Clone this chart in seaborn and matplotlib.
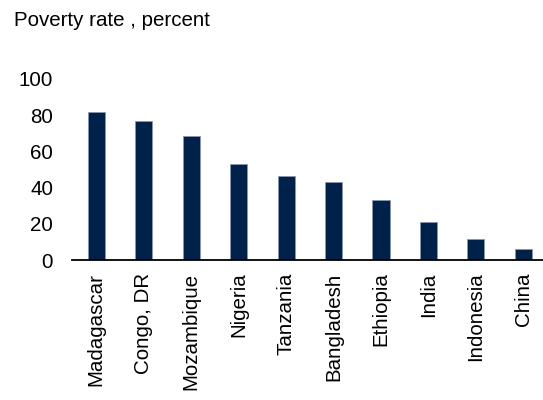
import matplotlib
matplotlib.use("Agg")
import matplotlib.pyplot as plt
import seaborn as sns
import pandas as pd

# data
countries = ["Madagascar", "Congo, DR", "Mozambique", "Nigeria", "Tanzania",
             "Bangladesh", "Ethiopia", "India", "Indonesia", "China"]
poverty_rate = [81.6, 76.9, 68.3, 53.2, 46.4, 43.3, 33.1, 20.8, 11.4, 6.1]
y_ticks = [0, 20, 40, 60, 80, 100]

df = pd.DataFrame({"country": countries, "rate": poverty_rate})

sns.set_theme(style="white")
plt.rcParams["font.family"] = ["Liberation Sans", "DejaVu Sans"]

fig = plt.figure(figsize=(5.43, 4.0), dpi=100)
ax = fig.add_axes([0.1335, 0.35, 0.874, 0.4525])

sns.barplot(data=df, x="country", y="rate", color="#00214a", width=0.36,
            edgecolor="#8898b0", linewidth=0.6, saturation=1, ax=ax)

ax.set_ylim(0, 100)
ax.set_xlim(-0.5, len(countries) - 0.5)
ax.set_yticks(y_ticks)
ax.set_xlabel("")
ax.set_ylabel("")
ax.tick_params(axis="y", length=0, pad=14, labelsize=14.8, colors="black")
ax.tick_params(axis="x", length=0, pad=9, labelsize=14.8, colors="black")
plt.setp(ax.get_xticklabels(), rotation=90)

for s in ["top", "right", "left"]:
    ax.spines[s].set_visible(False)
ax.spines["bottom"].set_color("black")
ax.spines["bottom"].set_linewidth(1.3)

fig.text(0.026, 1 - 26 / 400, "Poverty rate , percent", fontsize=14.8,
         va="baseline", ha="left", color="black")

fig.savefig("out.png", dpi=100)
